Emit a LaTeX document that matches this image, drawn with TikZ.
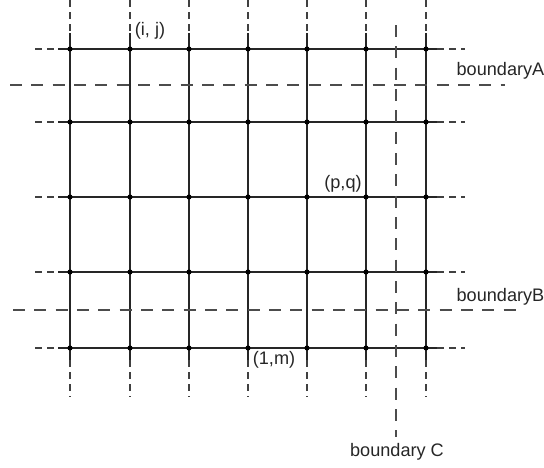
\documentclass[tikz,border=0pt]{standalone}
\usepackage{fontspec}
\setsansfont{Liberation Sans}
\usepackage{tikz}
\usetikzlibrary{positioning}
\tikzset{
  gridline/.style={line width=1.4pt,draw=black!85},
  extline/.style={line width=0.8pt,draw=black!75,dash pattern=on 5pt off 4pt},
  bndline/.style={line width=0.9pt,draw=black!70,dash pattern=on 9pt off 7pt},
  knot/.style={circle,fill=black,inner sep=0pt,minimum size=3.8pt},
  lbl/.style={font=\sffamily\fontsize{13.6}{15}\selectfont,inner sep=1pt,text=black!85}
}
\begin{document}
\begin{tikzpicture}[x=0.75pt,y=-0.75pt]
  \useasboundingbox (0,0) rectangle (544,468);
  % columns
  \foreach \c/\x in {1/70,2/130,3/189,4/248,5/307,6/366,7/426}{
    \coordinate (t\c) at (\x,0);
    \coordinate (ts\c) at (\x,33);
    \coordinate (bs\c) at (\x,360);
    \coordinate (b\c) at (\x,397);
    \draw[extline] (t\c) -- (ts\c);
    \draw[gridline] (ts\c) -- (bs\c);
    \draw[extline] (bs\c) -- (b\c);
  }
  % rows
  \foreach \r/\y in {1/49,2/122,3/197,4/272,5/348}{
    \coordinate (l\r) at (35,\y);
    \coordinate (ls\r) at (58,\y);
    \coordinate (rs\r) at (437,\y);
    \coordinate (r\r) at (465,\y);
    \draw[extline] (l\r) -- (ls\r);
    \draw[gridline] (ls\r) -- (rs\r);
    \draw[extline] (rs\r) -- (r\r);
    \foreach \c/\x in {1/70,2/130,3/189,4/248,5/307,6/366,7/426}
      \node[knot] (g\c\r) at (\x,\y) {};
  }
  % boundaries
  \coordinate (aw) at (10,85);  \coordinate (ae) at (505,85);
  \coordinate (bw) at (13,310); \coordinate (be) at (520,310);
  \coordinate (cn) at (396,25); \coordinate (cs) at (396,437);
  \draw[bndline] (aw) -- (ae);
  \draw[bndline] (bw) -- (be);
  \draw[bndline] (cn) -- (cs);
  % labels
  \node[lbl,anchor=west] (bA) at (455,71) {boundaryA};
  \node[lbl,anchor=west] (bB) at (455,297) {boundaryB};
  \node[lbl] (bC) at (397,452) {boundary C};
  \node[lbl] (ij) at (150,31) {(i, j)};
  \node[lbl] (pq) at (343,184) {(p,q)};
  \node[lbl] (lm) at (274,360) {(1,m)};
\end{tikzpicture}
\end{document}
